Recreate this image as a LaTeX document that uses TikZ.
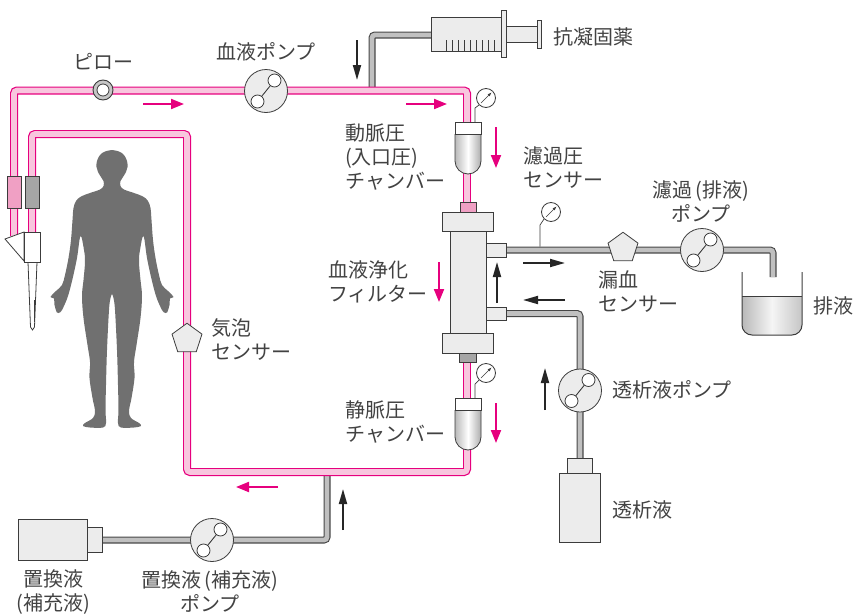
\documentclass[tikz,border=0pt]{standalone}
\usepackage{fontspec}
\newfontfamily\jpfont{Noto Sans CJK JP}
\usetikzlibrary{arrows.meta,calc,shapes.geometric}

\definecolor{bloodline}{RGB}{230,0,126}
\definecolor{bloodfill}{RGB}{248,198,222}
\definecolor{pinkcap}{RGB}{240,160,196}
\definecolor{tubeedge}{RGB}{70,70,70}
\definecolor{tubefill}{RGB}{192,192,192}
\definecolor{partfill}{RGB}{236,236,236}
\definecolor{partedge}{RGB}{60,60,60}
\definecolor{bodygray}{RGB}{112,112,112}
\definecolor{textgray}{RGB}{66,66,66}

\begin{document}
\begin{tikzpicture}[x=1pt,y=-1pt,
    blood/.style={draw=bloodline,line width=1.2pt,double=bloodfill,double distance=5.6pt,rounded corners=3pt},
    tube/.style={draw=tubeedge,line width=1.1pt,double=tubefill,double distance=4.8pt,rounded corners=3pt},
    part/.style={draw=partedge,fill=partfill,line width=0.8pt},
    pump/.style={circle,part,minimum size=43pt,inner sep=0pt},
    sensor/.style={regular polygon,regular polygon sides=5,part,minimum size=31.5pt,inner sep=0pt},
    gauge/.style={circle,draw=partedge,fill=white,line width=0.8pt,minimum size=19pt,inner sep=0pt},
    needle/.style={partedge,line width=0.6pt,-{Latex[length=4pt,width=3pt]}},
    bflow/.style={bloodline,line width=2pt,-{Triangle[length=13pt,width=10pt]}},
    dflow/.style={black!85,line width=1.8pt,-{Triangle[length=15pt,width=8pt]}},
    lbl/.style={text=textgray,font=\jpfont\fontsize{20}{24}\selectfont,inner sep=0pt}]
  \useasboundingbox (0,0) rectangle (855,616);

  % Body
  \foreach \s in {1,-1}
    \fill[bodygray,shift={(112,0)},xscale=\s] plot[smooth,tension=0.6] coordinates {
      (0,150) (7,151.5) (12,155) (15,161) (15.5,167) (14,172) (11,177) (8.5,181)
      (8.5,186) (12,189.5) (22,193) (31,196.5) (36,201) (38.5,208) (39.5,220)
      (41,240) (43.5,258) (47,275) (50,285) (56,291) (61.5,297) (58,298.5)
      (57.5,305) (55,312.5) (51.5,312) (48.5,307) (44,296) (39.5,279) (35,258)
      (31.5,236) (28,250) (27,262) (28.5,280) (30,296) (28.5,318) (24.5,345)
      (22,362) (22.5,378) (19.5,398) (17,411) (19,418) (27,423) (29,426)
      (22,427.5) (9,427.5) (6,423) (6.5,410) (6,385) (5,350) (3,310) (1.5,298)
      (0,294)} -- (-0.6,294) -- (-0.6,150) -- cycle;

  % Ports and ends of the lines
  \coordinate (oport) at (506,250);
  \coordinate (iport) at (506,313.5);
  \coordinate (drain) at (773,277);
  \coordinate (dbottle) at (580,458);
  \coordinate (sbottle) at (102,540);
  \coordinate (sjoin) at (327,472);
  \coordinate (syringe) at (431,35);
  \coordinate (ajoin) at (372,90);

  % Fluid lines
  \draw[tube] (ajoin) -- (ajoin |- syringe) -- (syringe);
  \draw[tube] (sjoin) -- (sjoin |- sbottle) -- (sbottle);
  \draw[tube] (oport) -- (oport -| drain) -- (drain);
  \draw[tube] (iport) -- (iport -| dbottle) -- (dbottle);

  % Blood lines
  \draw[blood] (14,236) -- (14,90.5) -- (467,90.5) -- (467,124);
  \draw[blood] (467,172) -- (467,204);
  \draw[blood] (467,360) -- (467,400);
  \draw[blood] (467,448) -- (467,472) -- (187,472) -- (187,134) -- (32,134) -- (32,234);

  % Needles
  \draw[part,fill=pinkcap] (7,176) rectangle (21,208);
  \draw[part,fill=gray!70] (25,176) rectangle (39,208);
  \draw[part,fill=white] (28,262) -- (30.5,327) -- (32.5,330) -- (34.5,327) -- (37,262) -- cycle;
  \draw[partedge,thin] (34.5,300) -- (34.5,322);
  \draw[part,fill=white] (24,232) -- (5,239) -- (24,261) -- cycle;
  \draw[part,fill=white] (24,232) rectangle (40,262);

  % Syringe
  \draw[part] (431,17.5) rectangle (501.5,51.5);
  \foreach \i in {0,...,8}
    \draw[partedge,line width=0.7pt] (446.5+6*\i,40) -- (446.5+6*\i,51.5);
  \draw[part] (506.5,26.5) rectangle (537,42.5);
  \draw[part] (501.5,10.5) rectangle (506.5,57.5);
  \draw[part] (537,20) rectangle (541,48);

  % Filter
  \draw[part,fill=pinkcap] (460,202) rectangle (476,213);
  \draw[part,fill=gray!70] (459,353) rectangle (476,362);
  \draw[part] (450,231) rectangle (486,333);
  \draw[part] (442,212) rectangle (493,231);
  \draw[part] (442,333) rectangle (493,353);
  \draw[part] (486,243) rectangle (506,257);
  \draw[part] (486,307) rectangle (506,320);

  % Chambers
  \foreach \y in {122,398} {
    \draw[part,left color=gray!55,right color=gray!65,middle color=white,rounded corners=13pt]
      (455,\y+12) -- (455,\y+52) -- (481,\y+52) -- (481,\y+12);
    \draw[part,fill=white] (455,\y) rectangle (481,\y+12);
  }

  % Gauges
  \node[gauge] (agauge) at (486,98) {};
  \node[gauge] (vgauge) at (486,373) {};
  \node[gauge] (fgauge) at (551,212) {};
  \draw[partedge,line width=0.7pt] (475,122) -- (475,108) -- (agauge.225);
  \draw[partedge,line width=0.7pt] (475,398) -- (475,384) -- (vgauge.225);
  \draw[partedge,line width=0.7pt] (540,246.5) -- (540,225) -- (fgauge.225);
  \foreach \g in {agauge,vgauge,fgauge}
    \draw[needle] ($(\g)+(-5,5)$) -- ($(\g)+(5.5,-5.5)$);

  % Pumps
  \node[pump] (bpump) at (266,91) {};
  \node[pump] (fpump) at (702,250) {};
  \node[pump] (dpump) at (580,390.5) {};
  \node[pump] (spump) at (212,540) {};
  \foreach \p in {bpump,fpump,dpump,spump} {
    \draw[partedge,line width=0.9pt] ($(\p)+(-8.5,10.5)$) -- ($(\p)+(8.5,-10.5)$);
    \draw[part,fill=white] ($(\p)+(-8.5,10.5)$) circle[radius=6.5pt]
      ($(\p)+(8.5,-10.5)$) circle[radius=6.5pt];
  }

  % Sensors and pillow
  \node[sensor] (leak) at (623,248) {};
  \node[sensor] (bubble) at (187,339) {};
  \node[circle,draw=partedge,fill=gray!45,line width=0.9pt,minimum size=20pt,inner sep=0pt] (pillow) at (103,90) {};
  \draw[part,fill=white] (pillow) circle[radius=6pt];

  % Bottles
  \draw[part] (567,458) rectangle (592,473);
  \draw[part] (559,473) rectangle (600,542);
  \draw[part] (18,519) rectangle (87,560);
  \draw[part] (87,527) rectangle (102,552);

  % Drain
  \begin{scope}
    \clip[rounded corners=10pt] (742,250) rectangle (802,335);
    \fill[left color=gray!55,right color=gray!45,middle color=gray!8] (742,296) rectangle (802,335);
  \end{scope}
  \draw[partedge,line width=0.8pt] (742,296) -- (802,296);
  \draw[partedge,line width=1pt,rounded corners=10pt] (742,272) -- (742,335) -- (802,335) -- (802,272);

  % Flow
  \foreach \a/\b in {{(143,104)}/{(184,104)},{(406,104)}/{(447,104)},{(496,127)}/{(496,168)},
      {(439,262)}/{(439,302)},{(496,403)}/{(496,443)},{(278,487)}/{(236,487)}}
    \draw[bflow] \a -- \b;
  \foreach \a/\b in {{(357,40)}/{(357,80)},{(523,263)}/{(565,263)},{(565,300)}/{(523,300)},
      {(497,303)}/{(497,262)},{(545,410)}/{(545,368)},{(343,530)}/{(343,489)}}
    \draw[dflow] \a -- \b;

  % Labels
  \node[lbl] (pillowlbl) at (103,62) {ピロー};
  \node[lbl] (bpumplbl) at (266,52) {血液ポンプ};
  \node[lbl,anchor=west] (syringelbl) at (553,37) {抗凝固薬};
  \node[lbl,anchor=west,align=left] (achamberlbl) at (345,157) {動脈圧\\(入口圧)\\チャンバー};
  \node[lbl,anchor=west,align=left] (fgaugelbl) at (523,168) {濾過圧\\センサー};
  \node[lbl,anchor=west,align=left] (filterlbl) at (328,281.5) {血液浄化\\フィルター};
  \node[lbl,anchor=west,align=left] (leaklbl) at (598,292) {漏血\\センサー};
  \node[lbl,align=center] (fpumplbl) at (701,201.5) {濾過\,(排液)\\ポンプ};
  \node[lbl,anchor=west] (drainlbl) at (813,306) {排液};
  \node[lbl,anchor=west,align=left] (bubblelbl) at (211,339.5) {気泡\\センサー};
  \node[lbl,anchor=west] (dpumplbl) at (612,390) {透析液ポンプ};
  \node[lbl,anchor=west,align=left] (vchamberlbl) at (345,422) {静脈圧\\チャンバー};
  \node[lbl,anchor=west] (dbottlelbl) at (612,510) {透析液};
  \node[lbl,align=center] (sbottlelbl) at (53,592) {置換液\\(補充液)};
  \node[lbl,align=center] (spumplbl) at (210,592) {置換液\,(補充液)\\ポンプ};
\end{tikzpicture}
\end{document}
